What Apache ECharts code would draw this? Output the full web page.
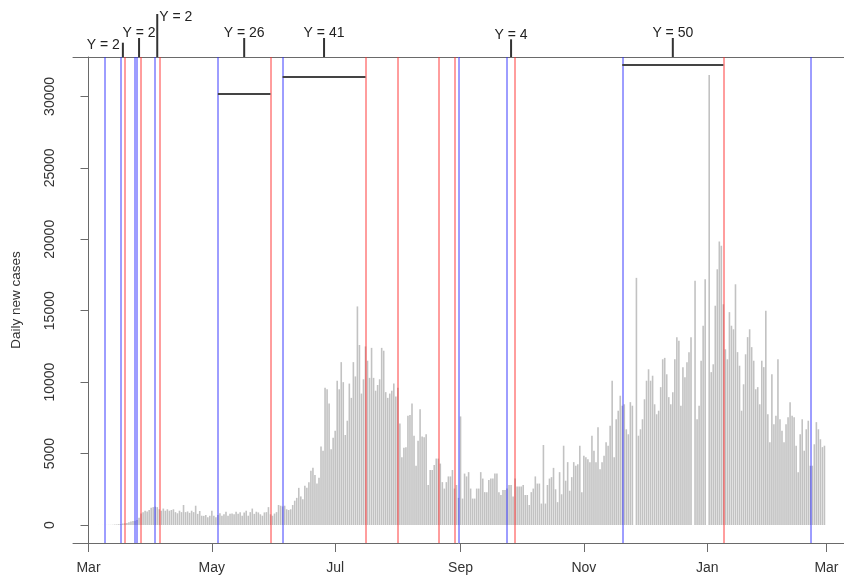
<!DOCTYPE html>
<html>
<head>
<meta charset="utf-8">
<script src="https://cdn.jsdelivr.net/npm/echarts@6/dist/echarts.min.js"></script>
<style>
  html, body { margin: 0; padding: 0; background: #ffffff; }
  #chart { width: 844px; height: 576px; }
</style>
</head>
<body>
<div id="chart"></div>
<script>
// Daily new cases, one value per day from startDate (2020-03-01 .. 2021-02-28)
const startDate = '2020-03-01';
const casesMar = [2, 0, 1, 0, 1, 3, 2, 4, 3, 5, 9, 10, 15, 30, 40, 45, 60, 100, 130, 140,
  200, 250, 280, 300, 350, 500, 800, 900, 1000, 950, 1050];
const casesApr = [1200, 1250, 1280, 1250, 1100, 1000, 1150, 1000, 1100, 1000,
  1050, 1100, 900, 820, 1000, 900, 1400, 900, 950, 850,
  1000, 900, 1350, 780, 980, 650, 640, 700, 540, 650];
const casesMay = [1000, 650, 540, 700, 820, 650, 760, 930, 650, 780,
  800, 760, 930, 780, 900, 650, 880, 1000, 650, 900,
  1150, 780, 930, 880, 750, 650, 880, 900, 1250, 750, 650];
const casesJun = [800, 900, 1400, 1350, 1300, 1350, 1100, 1050, 1100, 1400,
  1700, 1900, 2600, 2000, 1800, 2750, 2600, 3000, 3800, 4000,
  3500, 2900, 3300, 5500, 5200, 9600, 9500, 8500, 5300, 6100];
const casesJul = [6600, 10100, 9500, 11400, 10000, 6300, 7300, 9900, 8900, 11400,
  10400, 15300, 12600, 9200, 10200, 12500, 11500, 10300, 12400, 10300,
  9400, 9800, 10200, 12400, 12200, 9300, 8900, 9200, 9400, 9900, 9000];
const casesAug = [9600, 7100, 4750, 5400, 5450, 7650, 7700, 8500, 6250, 4150,
  5900, 8100, 6200, 6150, 6350, 2800, 3850, 3850, 4200, 4650,
  4650, 4300, 3000, 2550, 3000, 3400, 3400, 3850, 2550, 2800, 1900];
const casesSep = [7600, 1850, 3600, 3400, 3700, 2550, 1850, 1850, 2550, 2550,
  3700, 3250, 2300, 2300, 3150, 3250, 3250, 3600, 3600, 2300,
  2100, 2450, 2450, 2550, 2800, 2800, 2000, 3250, 2700, 2700];
const casesOct = [2700, 2800, 2100, 2100, 1400, 2300, 2550, 3400, 2900, 2900,
  1500, 5600, 1500, 2800, 3250, 3350, 4000, 2500, 1600, 3700,
  2150, 5550, 3100, 4400, 2400, 3350, 4400, 4150, 4250, 5550, 2300];
const casesNov = [4850, 4750, 4600, 4400, 6250, 5200, 4400, 6850, 3900, 4400,
  4850, 5800, 5550, 6950, 10100, 4750, 7400, 8000, 9050, 8350,
  8450, 6700, 6350, 8600, 8350, 0, 17300, 6250, 6700, 7400];
const casesDec = [8800, 10100, 10900, 10100, 10450, 8450, 7750, 8000, 9650, 11600,
  11700, 10550, 8950, 8450, 9300, 11600, 13150, 12900, 8350, 11050,
  10350, 11400, 12100, 13150, 0, 17100, 7400, 8350, 11500, 13950, 17200];
const casesJan = [0, 31500, 10700, 11250, 15350, 17900, 19850, 19550, 15450, 12300,
  11600, 14900, 13950, 13700, 16850, 12100, 11150, 8000, 9850, 11950,
  13150, 13700, 12450, 11500, 9500, 9650, 8450, 11500, 11050, 15000, 7750];
const casesFeb = [5800, 10550, 7050, 7650, 11600, 7400, 6600, 5800, 7050, 7550,
  8600, 7650, 7550, 5550, 3700, 6350, 7400, 5200, 6700, 7300,
  4150, 4150, 5650, 7200, 6700, 6000, 5450, 5550];

// Axis ticks
const tickDates = ['2020-03-01', '2020-05-01', '2020-07-01', '2020-09-01', '2020-11-01', '2021-01-01', '2021-03-01'];
const tickLabels = ['Mar', 'May', 'Jul', 'Sep', 'Nov', 'Jan', 'Mar'];
const yTicks = [0, 5000, 10000, 15000, 20000, 25000, 30000];

// Event markers: blue = start, red = end
const startEvents = ['2020-03-09', '2020-03-17', '2020-03-24', '2020-03-25', '2020-04-03',
  '2020-05-04', '2020-06-05', '2020-08-31', '2020-09-24', '2020-11-20', '2021-02-21'];
const endEvents = ['2020-03-19', '2020-03-27', '2020-04-05', '2020-05-30', '2020-07-16',
  '2020-08-01', '2020-08-21', '2020-08-29', '2020-09-28', '2021-01-09'];

// Labelled spans (Y = length in days)
const spanStarts = ['2020-03-17', '2020-03-25', '2020-04-03', '2020-05-04', '2020-06-05', '2020-09-24', '2020-11-20'];
const spanEnds = ['2020-03-19', '2020-03-27', '2020-04-05', '2020-05-30', '2020-07-16', '2020-09-28', '2021-01-09'];
const spanLabels = ['Y = 2', 'Y = 2', 'Y = 2', 'Y = 26', 'Y = 41', 'Y = 4', 'Y = 50'];
const spanLevels = [null, null, null, 30200, 31350, null, 32200];

// ---- helpers and styling ----
const DAY = 86400000;
function parseDay(s) {
  const p = s.split('-').map(Number);
  return Date.UTC(p[0], p[1] - 1, p[2]);
}
const t0 = parseDay(startDate);
function dayIndex(s) { return Math.round((parseDay(s) - t0) / DAY); }

const dailyCases = [].concat(casesMar, casesApr, casesMay, casesJun, casesJul, casesAug,
  casesSep, casesOct, casesNov, casesDec, casesJan, casesFeb);
const barData = dailyCases.map((v, i) => [i, v]);

const tickDays = tickDates.map(dayIndex);
const tickNameByDay = {};
tickDays.forEach((d, i) => { tickNameByDay[d] = tickLabels[i]; });

const FONT = '"Liberation Sans", Arial, Helvetica, sans-serif';
const FRAME = '#6a6a6a';
const BLUE = 'rgba(40,40,255,0.5)';
const RED = 'rgba(255,40,40,0.5)';

const markData = [];
startEvents.forEach(s => markData.push({ xAxis: dayIndex(s), lineStyle: { color: BLUE, width: 1.8, type: 'solid' } }));
endEvents.forEach(s => markData.push({ xAxis: dayIndex(s), lineStyle: { color: RED, width: 1.8, type: 'solid' } }));
spanLevels.forEach((lv, i) => {
  if (lv == null) return;
  markData.push([
    { coord: [dayIndex(spanStarts[i]), lv], lineStyle: { color: '#444', width: 2, type: 'solid' } },
    { coord: [dayIndex(spanEnds[i]), lv] }
  ]);
});

// Annotation tick length above the frame and label placement
const annotTickLen = [14.3, 19, 43, 19, 19, 17.7, 19];
const annotPlace = ['left', 'top', 'right', 'top', 'top', 'top', 'top'];
const annotData = spanStarts.map((s, i) => [(dayIndex(s) + dayIndex(spanEnds[i])) / 2, annotTickLen[i]]);

const X_MIN = -7.67, X_MAX = 373.67;

const chart = echarts.init(document.getElementById('chart'), null, { renderer: 'canvas' });
chart.setOption({
  animation: false,
  backgroundColor: '#ffffff',
  grid: [
    { left: 73, right: 0, top: 57, bottom: 33, containLabel: false },
    { left: 73, right: 0, top: 0, height: 57, containLabel: false }
  ],
  xAxis: [
    {
      type: 'value', gridIndex: 0, min: X_MIN, max: X_MAX, position: 'bottom',
      axisLine: { show: true, onZero: false, lineStyle: { color: FRAME, width: 1 } },
      axisTick: { show: true, length: 9, customValues: tickDays, lineStyle: { color: FRAME, width: 1 } },
      axisLabel: {
        customValues: tickDays, margin: 18, color: '#333', fontSize: 14, fontFamily: FONT,
        formatter: v => tickNameByDay[Math.round(v)] || ''
      },
      splitLine: { show: false }
    },
    {
      type: 'value', gridIndex: 0, min: X_MIN, max: X_MAX, position: 'top',
      axisLine: { show: true, onZero: false, lineStyle: { color: FRAME, width: 1 } },
      axisTick: { show: false }, axisLabel: { show: false }, splitLine: { show: false }
    },
    {
      type: 'value', gridIndex: 1, min: X_MIN, max: X_MAX, show: false
    }
  ],
  yAxis: [
    {
      type: 'value', gridIndex: 0, min: -1260, max: 32760,
      name: 'Daily new cases', nameLocation: 'middle', nameGap: 50, nameRotate: 90,
      nameTextStyle: { color: '#333', fontSize: 13.5, fontFamily: FONT },
      axisLine: { show: true, lineStyle: { color: FRAME, width: 1 } },
      axisTick: { show: true, length: 8, customValues: yTicks, lineStyle: { color: FRAME, width: 1 } },
      axisLabel: {
        customValues: yTicks, rotate: 90, margin: 16, color: '#333', fontSize: 14, fontFamily: FONT,
        formatter: v => String(Math.round(v))
      },
      splitLine: { show: false }
    },
    { type: 'value', gridIndex: 1, min: 0, max: 57, show: false }
  ],
  series: [
    {
      type: 'bar', xAxisIndex: 0, yAxisIndex: 0, data: barData,
      barWidth: 1.6, itemStyle: { color: '#c2c2c2' }, silent: true,
      markLine: {
        silent: true, symbol: ['none', 'none'], label: { show: false },
        emphasis: { disabled: true }, animation: false,
        data: markData
      }
    },
    {
      type: 'custom', xAxisIndex: 2, yAxisIndex: 1, data: annotData, silent: true, clip: false,
      renderItem: function (params, api) {
        const i = params.dataIndex;
        const base = api.coord([api.value(0), 0]);
        const tip = api.coord([api.value(0), api.value(1)]);
        let tx = tip[0], ty = tip[1] - 4.5, align = 'center';
        if (annotPlace[i] === 'left') { tx = tip[0] - 3; ty = tip[1] + 2.5; align = 'right'; }
        else if (annotPlace[i] === 'right') { tx = tip[0] + 2; ty = tip[1] + 3; align = 'left'; }
        return {
          type: 'group',
          children: [
            { type: 'line', shape: { x1: base[0], y1: base[1], x2: tip[0], y2: tip[1] },
              style: { stroke: '#333', lineWidth: 2 } },
            { type: 'text', x: tx, y: ty,
              style: { text: spanLabels[i], fill: '#222', fontSize: 14, fontFamily: FONT,
                       align: align, verticalAlign: 'middle' } }
          ]
        };
      }
    }
  ]
});
</script>
</body>
</html>
